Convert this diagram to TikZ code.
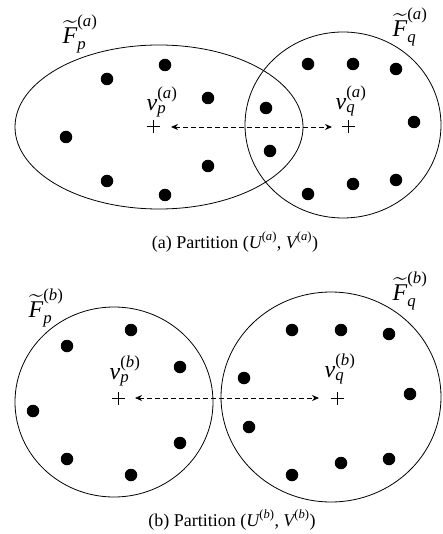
\documentclass[tikz,border=0pt]{standalone}
\usepackage{amsmath}
\usepackage{fontspec}
\setmainfont{Liberation Serif}
\usetikzlibrary{arrows.meta}
\newcommand{\itx}[1]{\text{\itshape #1}}
\newcommand{\upx}[1]{\text{#1}}
\begin{document}
\begin{tikzpicture}[x=1pt,y=-1pt,
  region/.style={draw,line width=0.8pt},
  dot/.style={circle,fill,inner sep=0pt,minimum size=12.5pt},
  crossmark/.style={line width=1pt},
  link/.style={dash pattern=on 5pt off 3pt,line width=0.8pt,{Stealth[length=7pt,width=6pt]}-{Stealth[length=7pt,width=6pt]}},
  lbl/.style={inner sep=0pt,font=\fontsize{24}{28}\selectfont},
  captext/.style={inner sep=0pt,font=\fontsize{18}{21}\selectfont}]
\useasboundingbox (0,0) rectangle (443,534);
% (a)
\draw[region] (159,127) ellipse [x radius=144, y radius=82];
\draw[region] (343,125) ellipse [x radius=98, y radius=93];
\foreach \n/\x/\y in {a1/107/79,a2/165/65,a3/208/98,a4/66/137,a5/107/181,a6/165/195,a7/208/166}
  \node[dot] (\n) at (\x,\y) {};
\foreach \n/\x/\y in {b1/308/64,b2/353/64,b3/396/69,b4/266/108,b5/270/151,b6/414/122,b7/396/180,b8/353/184,b9/308/194}
  \node[dot] (\n) at (\x,\y) {};
\coordinate (pa) at (153,127);
\coordinate (qa) at (348,127);
\draw[crossmark] ([xshift=-6.5pt]pa) -- ([xshift=6.5pt]pa) ([yshift=-6.5pt]pa) -- ([yshift=6.5pt]pa);
\draw[crossmark] ([xshift=-6.5pt]qa) -- ([xshift=6.5pt]qa) ([yshift=-6.5pt]qa) -- ([yshift=6.5pt]qa);
\draw[link] ([xshift=18pt]pa) -- ([xshift=-16pt]qa);
\node[lbl] (Fpa) at (80,34) {$\widetilde{\itx{F}}_{\itx{p}}^{\upx{(}\itx{a}\upx{)}}$};
\node[lbl] (Fqa) at (410,27) {$\widetilde{\itx{F}}_{\itx{q}}^{\upx{(}\itx{a}\upx{)}}$};
\node[lbl] (vpa) at (162,102) {$\itx{v}_{\itx{p}}^{\upx{(}\itx{a}\upx{)}}$};
\node[lbl] (vqa) at (351,101) {$\itx{v}_{\itx{q}}^{\upx{(}\itx{a}\upx{)}}$};
\node[captext] (capa) at (235,242) {(a) Partition ($\itx{U}^{\upx{(}\itx{a}\upx{)}}$, $\itx{V}^{\upx{(}\itx{a}\upx{)}}$)};
% (b)
\draw[region] (114,402) ellipse [x radius=99, y radius=95];
\draw[region] (331,397) ellipse [x radius=110, y radius=105];
\foreach \n/\x/\y in {c1/131/330,c2/67/346,c3/180/367,c4/33/411,c5/180/443,c6/67/459,c7/131/475}
  \node[dot] (\n) at (\x,\y) {};
\foreach \n/\x/\y in {d1/292/330,d2/341/330,d3/389/334,d4/244/378,d5/410/394,d6/249/427,d7/389/459,d8/341/463,d9/292/475}
  \node[dot] (\n) at (\x,\y) {};
\coordinate (pb) at (118,398);
\coordinate (qb) at (337,398);
\draw[crossmark] ([xshift=-6.5pt]pb) -- ([xshift=6.5pt]pb) ([yshift=-6.5pt]pb) -- ([yshift=6.5pt]pb);
\draw[crossmark] ([xshift=-6.5pt]qb) -- ([xshift=6.5pt]qb) ([yshift=-6.5pt]qb) -- ([yshift=6.5pt]qb);
\draw[link] ([xshift=17pt]pb) -- ([xshift=-18pt]qb);
\node[lbl] (Fpb) at (46,308) {$\widetilde{\itx{F}}_{\itx{p}}^{\upx{(}\itx{b}\upx{)}}$};
\node[lbl] (Fqb) at (410,291) {$\widetilde{\itx{F}}_{\itx{q}}^{\upx{(}\itx{b}\upx{)}}$};
\node[lbl] (vpb) at (125,371) {$\itx{v}_{\itx{p}}^{\upx{(}\itx{b}\upx{)}}$};
\node[lbl] (vqb) at (340,369) {$\itx{v}_{\itx{q}}^{\upx{(}\itx{b}\upx{)}}$};
\node[captext] (capb) at (232,520) {(b) Partition ($\itx{U}^{\upx{(}\itx{b}\upx{)}}$, $\itx{V}^{\upx{(}\itx{b}\upx{)}}$)};
\end{tikzpicture}
\end{document}
